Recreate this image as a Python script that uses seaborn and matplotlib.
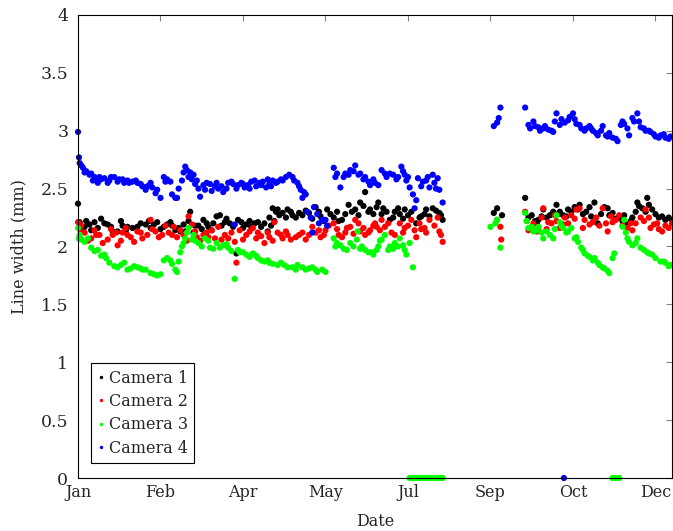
import pandas as pd
import matplotlib
matplotlib.use('Agg')
import matplotlib.pyplot as plt
import seaborn as sns

# Day of year (0 = 1 Jan) and line width readings per camera
cam1_days = [0, 1, 4, 7, 10, 14, 18, 21, 24, 27, 30, 33, 36, 41, 44, 48, 52, 56, 59, 62,
             65, 68, 70, 73, 76, 79, 82, 84, 86, 89, 92, 96, 99, 102, 105, 107, 111, 115, 116, 118,
             120, 121, 124, 127, 130, 132, 136, 140, 144, 147, 151, 155, 158, 160, 164, 168, 171, 174, 177, 181,
             182, 185, 189, 192, 195, 198, 200, 205, 208, 211, 215, 219, 221,
             252, 254, 257,
             271, 275, 277, 279, 282, 284, 286, 290, 292, 294, 297, 301, 304, 308, 311, 313, 315, 319, 322, 324,
             328, 330, 333, 336, 339, 342, 345, 348, 352, 356, 360,
             2, 5, 8, 12, 16, 20, 26, 29, 38, 43, 46, 50, 54, 57,
             61, 64, 67, 71, 75, 78, 81, 87, 90, 94, 97, 100, 104, 109, 113, 117, 119,
             122, 126, 129, 134, 138, 142, 146, 149, 153, 157, 162, 166, 170, 173, 176, 179, 184, 187, 191,
             194, 197, 202, 207, 210, 213, 217, 220,
             273, 278, 281, 288, 291, 296, 299, 303, 306, 310, 317, 321, 326, 331, 335, 338, 340, 344, 346, 350,
             354, 358]
cam1_vals = [2.37, 2.21, 2.17, 2.19, 2.21, 2.24, 2.19, 2.13, 2.13, 2.18, 2.17, 2.16, 2.17, 2.19, 2.16, 2.21, 2.17, 2.21, 2.14, 2.13,
             2.13, 2.30, 2.12, 2.18, 2.23, 2.17, 2.20, 2.26, 2.27, 2.21, 2.20, 1.94, 2.21, 2.19, 2.17, 2.20, 2.17, 2.13, 2.25, 2.33,
             2.30, 2.32, 2.29, 2.32, 2.27, 2.25, 2.27, 2.29, 2.34, 2.26, 2.32, 2.25, 2.22, 2.23, 2.36, 2.32, 2.38, 2.47, 2.32, 2.34,
             2.38, 2.33, 2.23, 2.30, 2.28, 2.32, 2.27, 2.20, 2.26, 2.32, 2.33, 2.29, 2.23,
             2.29, 2.33, 2.27,
             2.42, 2.27, 2.22, 2.23, 2.32, 2.25, 2.27, 2.36, 2.30, 2.27, 2.32, 2.34, 2.36, 2.30, 2.26, 2.38, 2.20, 2.34, 2.27, 2.29,
             2.25, 2.22, 2.19, 2.25, 2.38, 2.33, 2.42, 2.32, 2.25, 2.23, 2.23,
             2.15, 2.22, 2.14, 2.16, 2.20, 2.17, 2.22, 2.14, 2.20, 2.22, 2.19, 2.15, 2.19, 2.18,
             2.16, 2.19, 2.22, 2.18, 2.15, 2.20, 2.14, 2.18, 2.24, 2.17, 2.23, 2.16, 2.22, 2.21, 2.20, 2.18, 2.22,
             2.27, 2.25, 2.30, 2.29, 2.31, 2.24, 2.30, 2.22, 2.28, 2.30, 2.28, 2.30, 2.27, 2.35, 2.30, 2.28, 2.28, 2.30, 2.25,
             2.33, 2.24, 2.30, 2.25, 2.28, 2.26, 2.31, 2.27,
             2.25, 2.20, 2.26, 2.30, 2.28, 2.26, 2.30, 2.32, 2.28, 2.34, 2.28, 2.33, 2.24, 2.27, 2.22, 2.30, 2.35, 2.30, 2.36, 2.28,
             2.26, 2.25]

cam2_days = [0, 2, 4, 8, 11, 13, 18, 21, 24, 27, 30, 32, 36, 39, 44, 47, 51, 55, 58, 60,
             64, 67, 69, 72, 76, 79, 83, 85, 89, 91, 96, 98, 102, 106, 109, 113, 116, 119, 121, 124,
             127, 132, 136, 140, 142, 147, 150, 155, 158, 162, 165, 168, 171, 174, 177, 180, 181, 184, 186, 190,
             195, 198, 202, 205, 208, 211, 213, 218, 219, 221,
             254, 256, 256.5,
             271, 273, 276, 279, 282, 285, 289, 292, 295, 299, 302, 304, 306, 310, 314, 318, 321, 324, 328, 333,
             336, 341, 344, 347, 351, 354, 358,
             1, 6, 10, 15, 20, 23, 26, 29, 34, 38, 42, 45, 49, 53, 57,
             62, 66, 71, 74, 78, 81, 87, 93, 95, 100, 104, 108, 111, 115, 118,
             123, 126, 129, 134, 138, 144, 146, 149, 152, 157, 160, 163, 167, 170, 173, 176, 179, 183, 188, 192,
             197, 200, 204, 207, 210, 216, 220,
             272, 275, 278, 281, 284, 287, 290, 294, 297, 301, 307, 312, 316, 320, 323, 326, 330, 335, 338, 343,
             346, 349, 352, 356, 360]
cam2_vals = [2.21, 2.18, 2.12, 2.07, 2.10, 2.10, 2.06, 2.10, 2.01, 2.12, 2.10, 2.08, 2.13, 2.07, 2.23, 2.13, 2.10, 2.12, 2.17, 2.08,
             2.10, 2.26, 2.19, 2.08, 2.10, 2.08, 2.07, 2.17, 2.10, 2.07, 1.86, 2.14, 2.10, 2.16, 2.12, 2.03, 2.08, 2.21, 2.12, 2.07,
             2.10, 2.08, 2.12, 2.10, 2.17, 2.08, 2.14, 2.20, 2.10, 2.12, 2.17, 2.23, 2.13, 2.10, 2.14, 2.20, 2.17, 2.23, 2.17, 2.12,
             2.20, 2.16, 2.23, 2.08, 2.15, 2.12, 2.23, 2.25, 2.13, 2.04,
             2.23, 2.17, 2.06,
             2.30, 2.14, 2.20, 2.16, 2.33, 2.21, 2.27, 2.16, 2.25, 2.27, 2.32, 2.33, 2.16, 2.19, 2.25, 2.33, 2.13, 2.21, 2.27, 2.16,
             2.14, 2.25, 2.32, 2.16, 2.20, 2.13, 2.16,
             2.15, 2.05, 2.14, 2.03, 2.15, 2.12, 2.05, 2.16, 2.04, 2.12, 2.10, 2.15, 2.08, 2.18, 2.10,
             2.14, 2.05, 2.13, 2.05, 2.12, 2.14, 2.06, 2.12, 2.04, 2.06, 2.13, 2.07, 2.09, 2.12, 2.05,
             2.10, 2.13, 2.06, 2.10, 2.06, 2.12, 2.14, 2.10, 2.18, 2.15, 2.08, 2.16, 2.11, 2.20, 2.16, 2.12, 2.18, 2.14, 2.20, 2.10,
             2.12, 2.18, 2.14, 2.20, 2.16, 2.18, 2.10,
             2.22, 2.17, 2.13, 2.25, 2.15, 2.20, 2.22, 2.19, 2.20, 2.24, 2.23, 2.21, 2.18, 2.20, 2.26, 2.23, 2.18, 2.20, 2.20, 2.22,
             2.25, 2.19, 2.15, 2.18, 2.20]

cam3_days = [0, 0.5, 2, 6, 8, 12, 16, 19, 24, 28, 32, 36, 39, 44, 48, 52, 56, 59, 60, 61,
             63, 65, 67, 70, 73, 77, 80, 84, 88, 91, 95, 98, 102, 106, 109, 113, 116, 121, 125, 130,
             133, 138, 142, 145, 150, 155, 156, 159, 163, 167, 169, 169.5, 172, 176, 179, 181, 182, 184, 186, 189,
             192, 195, 197, 199, 201, 203,
             201, 203, 205, 207, 209, 211, 213, 215, 217, 219, 221,
             250, 253, 254, 256,
             271, 273, 276, 279, 282, 284, 288, 290, 292, 294, 297, 299, 301, 303, 305, 307, 310, 313, 316, 319,
             322, 324, 325, 330, 331, 333, 336, 339, 341, 345, 348, 353, 356, 359,
             324, 326, 328,
             1, 4, 10, 14, 17, 22, 26, 30, 34, 38, 41, 46, 50, 54, 57,
             62, 64, 66, 69, 71, 75, 79, 82, 86, 90, 93, 97, 100, 104, 108, 111, 115, 118,
             123, 127, 132, 136, 140, 144, 148, 157, 161, 165, 171, 174, 178, 183, 188, 191, 194, 198,
             272, 275, 278, 281, 286, 289, 293, 296, 302, 306, 309, 312, 315, 318, 321, 332, 334, 338, 343, 346,
             350, 355, 358]
cam3_vals = [2.16, 2.07, 2.06, 2.07, 1.99, 1.97, 1.93, 1.86, 1.82, 1.86, 1.81, 1.82, 1.80, 1.77, 1.75, 1.88, 1.88, 1.80, 1.78, 1.87,
             2.00, 2.07, 2.16, 2.10, 2.03, 2.07, 1.99, 2.03, 2.01, 1.99, 1.72, 1.95, 1.93, 1.94, 1.90, 1.87, 1.86, 1.84, 1.84, 1.82,
             1.84, 1.80, 1.82, 1.78, 1.78, 2.07, 2.00, 2.01, 1.97, 2.00, 2.06, 2.13, 2.00, 1.95, 1.93, 1.97, 2.00, 2.06, 2.10, 2.00,
             2.03, 2.07, 2.01, 1.93, 2.03, 1.82,
             0, 0, 0, 0, 0, 0, 0, 0, 0, 0, 0,
             2.17, 2.20, 2.23, 1.99,
             2.29, 2.16, 2.13, 2.17, 2.07, 2.13, 2.07, 2.27, 2.21, 2.16, 2.13, 2.16, 2.07, 2.04, 1.99, 1.94, 1.91, 1.90, 1.84, 1.81,
             1.77, 1.90, 1.94, 2.17, 2.23, 2.07, 2.01, 2.07, 1.99, 1.95, 1.93, 1.87, 1.86, 1.84,
             0, 0, 0,
             2.10, 2.04, 1.96, 1.92, 1.90, 1.83, 1.84, 1.80, 1.83, 1.81, 1.80, 1.76, 1.76, 1.90, 1.85,
             1.95, 2.03, 2.12, 2.06, 2.05, 2.00, 2.05, 1.98, 1.99, 2.02, 1.96, 1.97, 1.95, 1.91, 1.92, 1.88, 1.88, 1.85,
             1.86, 1.82, 1.80, 1.82, 1.81, 1.80, 1.80, 2.03, 1.98, 2.03, 1.98, 1.97, 1.95, 2.05, 1.97, 1.98, 2.00, 1.97,
             2.22, 2.17, 2.14, 2.12, 2.10, 2.15, 2.18, 2.12, 2.08, 1.97, 1.92, 1.88, 1.86, 1.82, 1.79, 2.12, 2.04, 2.03, 1.97, 1.94,
             1.90, 1.87, 1.83]

cam4_days = [0, 0.6, 1, 3, 5, 8, 10, 12, 14, 16, 19, 22, 25, 28, 30, 33, 36, 39, 41, 44,
             45, 47, 50, 52, 54, 56, 59, 60, 63, 65, 66, 68, 70, 72, 74, 76, 78, 81, 83, 85,
             88, 91, 94, 95, 97, 99, 101, 103, 105, 108, 110, 112, 114, 116, 118, 121, 124, 128, 131, 133,
             135, 136, 138, 141, 142, 143, 145, 148, 151, 155, 157, 159, 162, 165, 168, 171, 174, 177, 180, 182,
             184, 187, 189, 191, 194, 196, 198, 199, 201, 204, 205, 206, 209, 212, 213, 216, 218, 219, 221,
             252, 254, 255, 256,
             271, 274, 276, 279, 282, 285, 288, 290, 292, 294.5, 295, 298, 300, 302, 305, 308, 310, 312, 315, 318,
             320, 322, 324, 327, 330, 333, 334, 336, 339, 341, 344, 347, 350, 353, 356, 359,
             2, 4, 7, 9, 11, 13, 18, 20, 24, 27, 31, 35, 38, 42, 48, 53, 57,
             61, 64, 67, 69, 71, 73, 77, 80, 84, 87, 90, 93, 96, 100, 104, 107, 111, 115, 117, 120,
             123, 126, 130, 134, 137, 139, 146, 150, 156, 161, 164, 167, 170, 173, 176, 179, 186, 193, 197, 200,
             203, 208, 211, 215, 217,
             273, 277, 280, 283, 287, 289, 293, 297, 301, 304, 307, 311, 314, 317, 321, 326, 329, 331, 337, 340,
             343, 346, 349, 352, 355, 358]
cam4_vals = [2.99, 2.77, 2.72, 2.68, 2.65, 2.63, 2.60, 2.55, 2.58, 2.59, 2.57, 2.60, 2.58, 2.55, 2.57, 2.56, 2.55, 2.52, 2.49, 2.55,
             2.51, 2.46, 2.42, 2.60, 2.58, 2.56, 2.42, 2.42, 2.57, 2.69, 2.66, 2.64, 2.62, 2.57, 2.43, 2.53, 2.55, 2.48, 2.52, 2.50,
             2.47, 2.55, 2.54, 2.19, 2.53, 2.55, 2.51, 2.53, 2.56, 2.52, 2.55, 2.56, 2.51, 2.54, 2.57, 2.56, 2.57, 2.62, 2.57, 2.55,
             2.49, 2.42, 2.45, 2.25, 2.12, 2.34, 2.28, 2.23, 2.18, 2.68, 2.63, 2.51, 2.63, 2.66, 2.70, 2.63, 2.60, 2.53, 2.55, 2.53,
             2.66, 2.60, 2.63, 2.62, 2.60, 2.69, 2.62, 2.57, 2.51, 2.33, 2.40, 2.59, 2.56, 2.60, 2.51, 2.55, 2.59, 2.49, 2.38,
             3.04, 3.07, 3.11, 3.20,
             3.20, 3.02, 3.08, 3.03, 3.02, 3.01, 2.99, 3.15, 3.05, 0.0, 3.07, 3.12, 3.15, 3.06, 3.02, 3.02, 3.04, 3.00, 2.96, 3.04,
             2.96, 2.98, 2.94, 2.91, 3.08, 3.02, 2.96, 3.11, 3.15, 3.03, 3.00, 2.99, 2.95, 2.96, 2.94, 2.95,
             2.70, 2.64, 2.62, 2.57, 2.58, 2.60, 2.55, 2.60, 2.56, 2.58, 2.55, 2.57, 2.54, 2.52, 2.49, 2.56, 2.45,
             2.50, 2.64, 2.60, 2.58, 2.54, 2.50, 2.49, 2.54, 2.55, 2.52, 2.50, 2.56, 2.50, 2.54, 2.50, 2.57, 2.53, 2.58, 2.52, 2.55,
             2.58, 2.60, 2.60, 2.52, 2.47, 2.30, 2.20, 2.23, 2.60, 2.60, 2.62, 2.65, 2.62, 2.58, 2.56, 2.58, 2.63, 2.58, 2.65, 2.60,
             2.45, 2.52, 2.57, 2.62, 2.50,
             3.05, 3.04, 3.00, 3.04, 3.00, 3.08, 3.10, 3.09, 3.10, 3.05, 3.00, 3.02, 2.98, 3.00, 2.95, 2.93, 3.05, 3.06, 3.08, 3.08,
             3.02, 3.00, 2.97, 2.94, 2.97, 2.93]

tick_days = [0, 50, 100, 150, 200, 250, 300, 350]
tick_labels = ['Jan', 'Feb', 'Apr', 'May', 'Jul', 'Sep', 'Oct', 'Dec']
y_ticks = [0, 0.5, 1, 1.5, 2, 2.5, 3, 3.5, 4]
y_tick_labels = ['0', '0.5', '1', '1.5', '2', '2.5', '3', '3.5', '4']

cameras = ['Camera 1', 'Camera 2', 'Camera 3', 'Camera 4']
colors = {'Camera 1': '#000000', 'Camera 2': '#ff0000', 'Camera 3': '#00ff00', 'Camera 4': '#0000ff'}

frames = []
for name, d, v in zip(cameras,
                      [cam1_days, cam2_days, cam3_days, cam4_days],
                      [cam1_vals, cam2_vals, cam3_vals, cam4_vals]):
    frames.append(pd.DataFrame({'day': d, 'width': v, 'camera': name}))
df = pd.concat(frames, ignore_index=True)

sns.set_style("white")
plt.rcParams['font.family'] = ['DejaVu Serif']

# ----------------------- Scatter: line width per camera -----------------------
fig = plt.figure(figsize=(6.73, 5.31), dpi=100)
ax = fig.add_axes([0.1159, 0.0998, 0.8826, 0.872])
sns.scatterplot(data=df, x='day', y='width', hue='camera', hue_order=cameras,
                palette=colors, s=20, linewidth=0, ax=ax, clip_on=False)

ax.set_xlim(0, 360)
ax.set_ylim(0, 4)
ax.set_xticks(tick_days)
ax.set_xticklabels(tick_labels)
ax.set_yticks(y_ticks)
ax.set_yticklabels(y_tick_labels)
ax.set_xlabel('Date', fontsize=11.5)
ax.set_ylabel('Line width (mm)', fontsize=11.5)
ax.xaxis.set_label_coords(0.5, -0.075)
ax.yaxis.set_label_coords(-0.086, 0.5)
ax.tick_params(direction='in', top=True, right=True, length=4, width=0.8,
               color='#808080', labelsize=11.5, pad=4)
ax.tick_params(axis='y', labelsize=12.5, pad=7)
for sp in ax.spines.values():
    sp.set_color('black')
    sp.set_linewidth(0.8)

leg = ax.legend(loc='lower left', bbox_to_anchor=(0.022, 0.032), borderaxespad=0,
                fontsize=11.5, markerscale=0.55, handlelength=0.4, handletextpad=0.3,
                labelspacing=0.4, borderpad=0.4, fancybox=False, framealpha=1,
                edgecolor='black')
leg.get_frame().set_linewidth(0.8)

plt.savefig('out.png', dpi=100)
